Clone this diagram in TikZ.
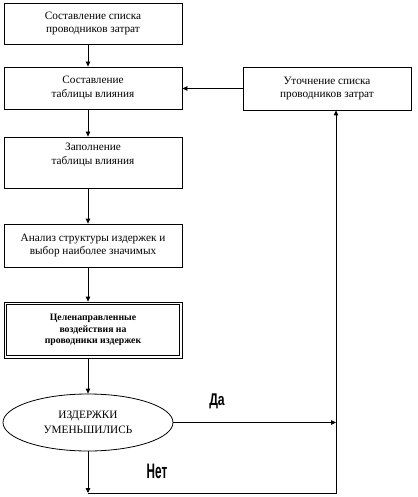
\documentclass[tikz,border=0pt]{standalone}
\usepackage{fontspec}
\setmainfont{Liberation Serif}
\newfontfamily\labfont{Liberation Sans}
\usetikzlibrary{arrows.meta,shapes.geometric}
\begin{document}
\begin{tikzpicture}[x=1bp,y=-1bp,
  box/.style={draw, line width=0.8bp, minimum width=178bp, align=center, inner sep=0pt, font=\fontsize{11.3}{14}\selectfont},
  txt/.style={align=center, inner sep=0pt, font=\fontsize{11.3}{14}\selectfont},
  arr/.style={-{Triangle[length=5bp,width=4.5bp]}, line width=0.8bp},
  ln/.style={line width=0.8bp},
  yn/.style={inner sep=0pt, font=\labfont\bfseries}]
\useasboundingbox (0,0) rectangle (417,497);
\node[box, minimum height=41bp] (b1) at (93,23.5) {Составление списка\\проводников затрат};
\node[box, minimum height=42bp] (b2) at (93,88) {Составление\\таблицы влияния};
\node[box, minimum width=168bp, minimum height=43bp] (b3) at (327,88.5) {Уточнение списка\\проводников затрат};
\node[box, minimum height=51bp] (b4) at (93,162.5) {};
\node[txt] (t4) at (93,155) {Заполнение\\таблицы влияния};
\node[box, minimum height=43bp] (b5) at (93,245.5) {Анализ структуры издержек и\\выбор наиболее значимых};
\node[box, minimum height=56bp, font=\fontsize{9.8}{11.5}\selectfont\bfseries] (b6) at (93,330) {Целенаправленные\\воздействия на\\проводники издержек};
\draw[ln] ([shift={(3,3)}]b6.north west) rectangle ([shift={(-3,-3)}]b6.south east);
\node[draw, ln, ellipse, minimum width=170bp, minimum height=57bp, inner sep=0pt, align=center,
      font=\fontsize{11.3}{15}\selectfont] (e) at (88,422.5) {ИЗДЕРЖКИ\\УМЕНЬШИЛИСЬ};
\coordinate (cb) at (88,493);
\coordinate (cr) at (336,493);
\draw[arr] (b1.south -| e.north) -- (b2.north -| e.north);
\draw[arr] (b2.south -| e.north) -- (b4.north -| e.north);
\draw[arr] (b4.south -| e.north) -- (b5.north -| e.north);
\draw[arr] (b5.south -| e.north) -- (b6.north -| e.north);
\draw[arr] (b6.south -| e.north) -- (e.north);
\draw[arr] (b3.west) -- (b2.east |- b3.west);
\draw[arr] (e.east) -- (e.east -| cr);
\draw[arr] (e.south) -- (cb);
\draw[arr] (cb) -- (cr) -- (cr |- b3.south);
\node[yn, xscale=0.72, font=\labfont\bfseries\fontsize{17}{17}\selectfont] (da) at (217,401) {Да};
\node[yn, xscale=0.56, font=\labfont\bfseries\fontsize{21}{21}\selectfont] (net) at (157,471) {Нет};
\end{tikzpicture}
\end{document}
